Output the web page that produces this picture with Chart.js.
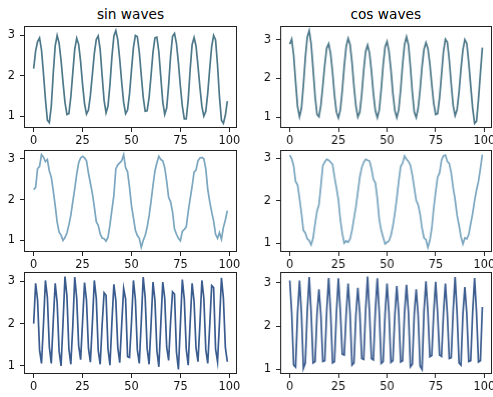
<!DOCTYPE html>
<html>
<head>
<meta charset="utf-8">
<script src="https://cdn.jsdelivr.net/npm/chart.js@4.4.1/dist/chart.umd.min.js"></script>
<style>
  body { margin: 0; background: #fff; overflow: hidden; }
  #wrap { position: relative; width: 493px; height: 397px; overflow: hidden; }
  canvas { position: absolute; }
  .title { position: absolute; width: 200px; text-align: center; font-family: 'DejaVu Sans'; font-size: 13.7px; line-height: 16px; color: #000; }
</style>
</head>
<body>
<div id="wrap">
  <div class="title" style="left:30.5px; top:6px">sin waves</div>
  <div class="title" style="left:285.75px; top:6px">cos waves</div>
</div>
<script>
// x positions and ticks
const xs = Array.from({ length: 100 }, (_, i) => i);
const xTicks = [0, 25, 50, 75, 100];
const yTicks = [1, 2, 3];

// values
const sinTop = [2.18, 2.62, 2.85, 2.94, 2.64, 2.06, 1.42, 0.9, 0.84, 1.24,
  2.05, 2.74, 3.0, 2.81, 2.38, 1.84, 1.34, 1.04, 1.06, 1.48,
  2.08, 2.66, 2.93, 2.78, 2.35, 1.78, 1.31, 1.05, 1.15, 1.52,
  2.03, 2.55, 2.9, 2.99, 2.65, 2.0, 1.39, 1.08, 1.25, 1.78,
  2.47, 2.98, 3.12, 2.89, 2.41, 1.84, 1.34, 1.06, 1.15, 1.55,
  2.14, 2.7, 3.0, 2.97, 2.59, 2.02, 1.47, 1.12, 1.13, 1.46,
  2.0, 2.58, 2.94, 2.96, 2.59, 1.96, 1.35, 1.04, 1.2, 1.77,
  2.49, 2.98, 3.05, 2.8, 2.32, 1.74, 1.25, 0.93, 0.93, 1.4,
  2.15, 2.77, 2.95, 2.74, 2.25, 1.71, 1.24, 1.0, 1.12, 1.57,
  2.17, 2.72, 3.0, 2.89, 2.26, 1.47, 0.9, 0.82, 1.02, 1.37];

const cosTop = [2.89, 3.02, 2.61, 1.92, 1.27, 1.01, 1.23, 1.83, 2.54, 3.07,
  3.24, 2.9, 2.24, 1.54, 1.07, 1.01, 1.31, 1.82, 2.36, 2.79,
  2.9, 2.64, 2.15, 1.56, 1.13, 0.98, 1.19, 1.69, 2.33, 2.83,
  3.04, 2.88, 2.41, 1.8, 1.29, 1.0, 1.13, 1.6, 2.22, 2.7,
  2.87, 2.66, 2.19, 1.61, 1.17, 0.99, 1.19, 1.72, 2.35, 2.82,
  2.96, 2.71, 2.23, 1.62, 1.17, 0.99, 1.19, 1.71, 2.36, 2.88,
  3.08, 2.87, 2.31, 1.64, 1.13, 0.99, 1.23, 1.71, 2.31, 2.76,
  2.93, 2.78, 2.38, 1.85, 1.36, 1.07, 1.09, 1.5, 2.1, 2.7,
  3.02, 2.94, 2.48, 1.86, 1.3, 1.04, 1.2, 1.65, 2.25, 2.74,
  3.01, 2.91, 2.42, 1.81, 1.23, 0.84, 0.9, 1.46, 2.14, 2.8];

const sinMid = [2.24, 2.3, 2.76, 2.81, 3.1, 3.04, 2.93, 2.98, 2.7, 2.55,
  2.22, 1.85, 1.45, 1.2, 1.13, 1.0, 1.07, 1.18, 1.38, 1.62,
  1.95, 2.27, 2.62, 2.9, 3.02, 3.06, 3.02, 2.95, 2.65, 2.4,
  2.15, 1.82, 1.46, 1.37, 1.16, 1.06, 1.04, 0.98, 1.08, 1.38,
  1.75, 2.1, 2.75, 2.85, 2.9, 2.95, 3.1, 2.78, 2.68, 2.3,
  1.85, 1.55, 1.25, 1.12, 1.05, 0.83, 1.0, 1.12, 1.32, 1.6,
  1.95, 2.35, 2.7, 2.9, 3.06, 2.98, 2.95, 2.78, 2.45, 2.05,
  1.95, 1.7, 1.28, 1.15, 1.05, 0.99, 1.22, 1.27, 1.33, 1.7,
  2.02, 2.32, 2.67, 2.72, 2.95, 3.02, 3.03, 3.0, 2.75, 2.25,
  1.95, 1.7, 1.48, 1.15, 1.05, 1.19, 1.03, 1.32, 1.5, 1.73];

const cosMid = [3.07, 2.98, 2.82, 2.45, 2.37, 2.05, 1.7, 1.3, 1.24, 1.1,
  1.06, 0.96, 1.12, 1.45, 1.75, 1.9, 2.35, 2.82, 2.91, 2.97,
  2.95, 2.9, 2.85, 2.55, 2.3, 2.02, 1.55, 1.23, 1.0, 1.05,
  1.02, 1.1, 1.3, 1.58, 1.85, 2.2, 2.55, 2.78, 2.9, 2.97,
  2.95, 2.93, 2.75, 2.5, 2.42, 2.05, 1.55, 1.3, 1.14, 0.98,
  1.02, 1.05, 1.18, 1.4, 1.7, 2.05, 2.45, 2.8, 2.88, 3.05,
  2.97, 2.92, 2.83, 2.6, 2.3, 2.0, 1.9, 1.68, 1.35, 1.12,
  1.08, 0.9, 1.06, 1.35, 1.82, 2.2, 2.55, 2.65, 2.95, 3.05,
  3.07, 2.92, 2.87, 2.65, 2.3, 2.02, 1.65, 1.42, 1.15, 0.98,
  1.12, 1.1, 1.2, 1.45, 1.7, 2.0, 2.25, 2.45, 2.75, 3.08];

const sinLow = [2.0, 2.95, 2.55, 1.38, 1.06, 1.98, 3.02, 2.62, 1.45, 1.06,
  2.05, 2.95, 2.5, 1.35, 1.0, 2.02, 3.11, 2.65, 1.4, 1.04,
  1.95, 3.1, 2.6, 1.48, 1.15, 2.05, 2.97, 2.55, 1.42, 1.09,
  2.0, 3.02, 2.6, 1.37, 1.04, 1.97, 2.73, 2.67, 1.4, 1.02,
  2.03, 2.93, 2.55, 1.44, 1.08, 1.98, 2.83, 2.58, 1.22, 1.2,
  2.02, 3.02, 2.57, 1.38, 1.06, 2.04, 3.1, 2.62, 1.42, 1.04,
  1.96, 2.98, 2.55, 1.36, 0.98, 2.0, 2.98, 2.6, 1.45, 1.13,
  2.05, 2.75, 2.7, 1.33, 0.92, 1.97, 3.04, 2.58, 1.4, 1.02,
  2.02, 2.95, 2.53, 1.42, 1.1, 2.0, 3.02, 2.6, 1.38, 1.06,
  1.95, 2.9, 2.85, 1.4, 1.1, 2.03, 3.08, 2.6, 1.44, 1.1];

const cosLow = [3.05, 2.3, 1.1, 1.05, 2.3, 3.05, 2.3, 1.02, 1.15, 2.35,
  3.13, 2.3, 1.15, 1.18, 2.28, 2.85, 2.25, 1.18, 1.2, 2.35,
  3.11, 2.3, 1.15, 1.18, 2.32, 3.1, 2.35, 1.35, 1.33, 2.3,
  2.98, 2.28, 1.1, 1.15, 2.25, 2.88, 2.3, 1.25, 1.23, 2.38,
  3.14, 2.3, 1.25, 1.22, 2.35, 3.1, 2.3, 1.14, 1.18, 2.28,
  2.98, 2.3, 1.16, 1.2, 2.25, 2.92, 2.3, 1.17, 1.2, 2.3,
  2.95, 2.32, 1.06, 1.12, 2.28, 2.85, 2.25, 1.08, 1.0, 2.35,
  3.03, 2.33, 1.29, 1.32, 2.3, 3.02, 2.3, 1.33, 1.3, 2.3,
  2.98, 2.28, 1.25, 1.27, 2.35, 3.13, 2.3, 1.15, 1.1, 2.28,
  2.9, 2.28, 1.18, 1.2, 2.33, 3.11, 2.3, 1.17, 1.2, 2.44];

Chart.defaults.font.family = 'DejaVu Sans';
Chart.defaults.color = '#111';

// black box around each axes, like matplotlib spines
const frame = {
  id: 'frame',
  afterDraw(chart) {
    const { ctx, chartArea: a } = chart;
    ctx.save();
    ctx.strokeStyle = '#222';
    ctx.lineWidth = 1;
    const l = Math.round(a.left) + 0.5, t = Math.round(a.top) + 0.5;
    const r = Math.round(a.right) - 0.5, b = Math.round(a.bottom) - 0.5;
    ctx.strokeRect(l, t, r - l, b - t);
    ctx.restore();
  }
};

const PAD_L = 30, PAD_T = 14, PAD_R = 10, PAD_B = 22;

const panels = [
  { data: sinTop, color: '#4d7889', left: 24, top: 26, w: 213 },
  { data: cosTop, color: '#4d7889', left: 280, top: 26, w: 211.5 },
  { data: sinMid, color: '#7aa6bf', left: 24, top: 149.5, w: 213 },
  { data: cosMid, color: '#7aa6bf', left: 280, top: 149.5, w: 211.5 },
  { data: sinLow, color: '#3a5b8e', left: 24, top: 272, w: 213 },
  { data: cosLow, color: '#3a5b8e', left: 280, top: 272, w: 211.5 }
];
const H = 102;

const wrap = document.getElementById('wrap');
panels.forEach(p => {
  const c = document.createElement('canvas');
  const cw = p.w + PAD_L + PAD_R, ch = H + PAD_T + PAD_B;
  c.width = cw; c.height = ch;
  c.style.width = cw + 'px'; c.style.height = ch + 'px';
  c.style.left = (p.left - PAD_L) + 'px';
  c.style.top = (p.top - PAD_T) + 'px';
  wrap.appendChild(c);

  const lo = Math.min(...p.data), hi = Math.max(...p.data);
  const m = (hi - lo) * 0.05;

  const tickGrid = { display: true, drawOnChartArea: false, drawTicks: true, tickLength: 4, color: '#222', lineWidth: 1 };

  new Chart(c.getContext('2d'), {
    type: 'line',
    data: {
      datasets: [{
        data: p.data.map((v, i) => ({ x: xs[i], y: v })),
        borderColor: p.color,
        borderWidth: 1.7,
        pointRadius: 0,
        tension: 0,
        fill: false
      }]
    },
    options: {
      responsive: false,
      animation: false,
      devicePixelRatio: 1,
      layout: { padding: { top: PAD_T, right: PAD_R, left: 0, bottom: 0 } },
      plugins: { legend: { display: false }, tooltip: { enabled: false } },
      scales: {
        x: {
          type: 'linear', min: -4.95, max: 103.95,
          afterBuildTicks: s => { s.ticks = xTicks.map(v => ({ value: v })); },
          afterFit: s => { s.height = PAD_B; },
          grid: tickGrid,
          border: { display: false },
          ticks: { font: { size: 11.4 }, padding: 2, maxRotation: 0, autoSkip: false }
        },
        y: {
          type: 'linear', min: lo - m, max: hi + m,
          afterBuildTicks: s => { s.ticks = yTicks.map(v => ({ value: v })); },
          afterFit: s => { s.width = PAD_L; },
          grid: tickGrid,
          border: { display: false },
          ticks: { font: { size: 11.4 }, padding: 5 }
        }
      }
    },
    plugins: [frame]
  });
});
</script>
</body>
</html>
